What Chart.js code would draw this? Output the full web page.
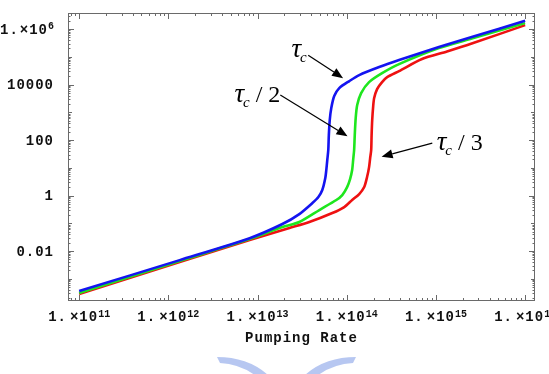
<!DOCTYPE html>
<html><head><meta charset="utf-8">
<script src="https://cdn.jsdelivr.net/npm/chart.js@4.4.0/dist/chart.umd.min.js"></script>
<style>
html,body{margin:0;padding:0;background:#fff;overflow:hidden;width:549px;height:374px}
#wrap{position:relative;width:549px;height:374px;overflow:hidden;background:#fff}
canvas{position:absolute;left:0;top:0}
</style></head>
<body><div id="wrap"><canvas id="c" width="590" height="374" style="width:590px;height:374px"></canvas></div>
<script>
// ---- data ----
const seriesNames = ['τc', 'τc/2', 'τc/3'];

const blueX = [1e11, 1.34e12, 8.15e12, 1.90e13, 2.94e13, 4.12e13, 4.81e13, 5.32e13, 5.75e13, 5.90e13, 6.05e13, 6.21e13, 6.30e13, 6.45e13, 6.71e13, 7.24e13, 8.24e13, 1.07e14, 1.38e14, 2.31e14, 3.86e14, 1.08e15, 2.52e15, 1e16];
const blueY = [3.6e-4, 4.7e-3, 0.029, 0.094, 0.215, 0.537, 0.883, 1.58, 4.28, 8.3, 19.0, 43.7, 151, 526, 1420, 3850, 7480, 13400, 22000, 42800, 76400, 2.24e5, 5.15e5, 2.0e6];

const greenX = [1e11, 1.34e12, 8.15e12, 1.90e13, 2.94e13, 4.93e13, 7.64e13, 8.91e13, 1.01e14, 1.09e14, 1.15e14, 1.18e14, 1.21e14, 1.23e14, 1.26e14, 1.31e14, 1.45e14, 1.78e14, 2.49e14, 3.86e14, 1.08e15, 2.52e15, 1e16];
const greenY = [3.06e-4, 4.37e-3, 0.027, 0.0733, 0.111, 0.300, 0.689, 1.04, 2.02, 3.94, 8.3, 19.0, 43.7, 151, 621, 1820, 4940, 12300, 25900, 54800, 2.07e5, 4.55e5, 1.64e6];

const redX = [1e11, 1.34e12, 8.15e12, 2.28e13, 3.81e13, 6.89e13, 9.38e13, 1.15e14, 1.38e14, 1.57e14, 1.69e14, 1.78e14, 1.83e14, 1.88e14, 1.90e14, 1.93e14, 1.98e14, 2.03e14, 2.19e14, 2.49e14, 2.84e14, 3.86e14, 6.98e14, 1.33e15, 2.52e15, 1e16];
const redY = [2.82e-4, 4.02e-3, 0.0249, 0.0675, 0.111, 0.234, 0.385, 0.689, 1.13, 2.02, 4.65, 10.6, 22.4, 43.7, 151, 526, 1680, 3270, 6890, 12300, 18600, 30600, 83000, 1.55e5, 3.0e5, 1.39e6];

const xTickExps = [11, 12, 13, 14, 15, 16];
const yTickLabels = {'-2': '0.01', '0': '1', '2': '100', '4': '10000', '6': null}; // null = 1.×10^6 form
const xTitle = 'Pumping Rate';

const xRange = [7.5e10, 1.29e16];
const yRange = [1.58e-4, 3.8e6];

// annotations in data coordinates: text anchor, arrow start, arrow end
const annotations = [
  {suffix: '', text: [2.4e13, 1.0e5], from: [3.7e13, 1.15e5], to: [9.1e13, 1.7e4]},
  {suffix: ' / 2', text: [5.5e12, 2340], from: [1.8e13, 4200], to: [1.02e14, 138]},
  {suffix: ' / 3', text: [1.02e15, 44], from: [9.1e14, 78], to: [2.46e14, 25]}
];

const toPts = (xs, ys) => xs.map((x, i) => ({x: x, y: ys[i]}));

function buildLogTicks(scale, lo, hi) {
  const t = [];
  for (let e = lo; e <= hi; e++) {
    for (let m = 1; m <= 9; m++) {
      const v = m * Math.pow(10, e);
      if (v >= scale.min && v <= scale.max) t.push({value: v, major: m === 1, exp: e, m: m});
    }
  }
  scale.ticks = t;
}

const MONO = '"Liberation Mono", "DejaVu Sans Mono", monospace';

// draws "1.×10" with a raised exponent. align: 'center' | 'right'
function drawPow(ctx, x, base, exp, align, gap) {
  ctx.font = 'bold 14px ' + MONO;
  ctx.letterSpacing = '1px';
  const a = '1.', b = '×10';
  const wa = ctx.measureText(a).width, wb = ctx.measureText(b).width;
  ctx.font = 'bold 10px ' + MONO;
  ctx.letterSpacing = '0px';
  const es = String(exp);
  const we = ctx.measureText(es).width;
  const total = wa + gap + wb + we;
  const x0 = align === 'right' ? x - total : x - total / 2;
  ctx.textAlign = 'left';
  ctx.textBaseline = 'alphabetic';
  ctx.font = 'bold 14px ' + MONO;
  ctx.letterSpacing = '1px';
  ctx.fillText(a, x0, base);
  ctx.fillText(b, x0 + wa + gap, base);
  ctx.font = 'bold 10px ' + MONO;
  ctx.letterSpacing = '0px';
  ctx.fillText(es, x0 + wa + gap + wb, base - 4.5);
}

const framePlugin = {
  id: 'frame',
  beforeDatasetsDraw(chart) {
    const {ctx, chartArea: a, scales} = chart;
    ctx.save();
    ctx.strokeStyle = '#6a6a6a';
    ctx.lineWidth = 1;
    ctx.strokeRect(a.left + 0.5, a.top + 0.5, a.right - a.left - 1, a.bottom - a.top - 1);
    ctx.beginPath();
    scales.x.ticks.forEach(t => {
      const p = Math.round(scales.x.getPixelForValue(t.value)) + 0.5;
      const len = t.m === 1 ? 6 : 3;
      ctx.moveTo(p, a.bottom); ctx.lineTo(p, a.bottom - len);
      ctx.moveTo(p, a.top); ctx.lineTo(p, a.top + len);
    });
    scales.y.ticks.forEach(t => {
      const p = Math.round(scales.y.getPixelForValue(t.value)) + 0.5;
      let len = 2.5;
      if (t.m === 1) len = (String(t.exp) in yTickLabels) ? 6 : 4;
      ctx.moveTo(a.left, p); ctx.lineTo(a.left + len, p);
      ctx.moveTo(a.right, p); ctx.lineTo(a.right - len, p);
    });
    ctx.stroke();

    // tick labels and axis title (real text, positioned by the scales)
    ctx.fillStyle = '#111';
    xTickExps.forEach(e => {
      const px = scales.x.getPixelForValue(Math.pow(10, e));
      drawPow(ctx, px, a.bottom + 20, e, 'center', 3);
    });
    Object.keys(yTickLabels).forEach(k => {
      const e = Number(k);
      const py = scales.y.getPixelForValue(Math.pow(10, e));
      const lab = yTickLabels[k];
      if (lab === null) {
        drawPow(ctx, a.left - 14, py + 4.5, e, 'right', 1);
      } else {
        ctx.font = 'bold 14px ' + MONO;
        ctx.letterSpacing = '1px';
        ctx.textAlign = 'right';
        ctx.textBaseline = 'alphabetic';
        ctx.fillText(lab, a.left - 14, py + 4.5);
      }
    });
    ctx.font = 'bold 14px ' + MONO;
    ctx.letterSpacing = '1px';
    ctx.textAlign = 'center';
    ctx.textBaseline = 'alphabetic';
    ctx.fillText(xTitle, (a.left + a.right) / 2, a.bottom + 41);
    ctx.letterSpacing = '0px';
    ctx.restore();
  },
  afterDatasetsDraw(chart) {
    const {ctx, scales} = chart;
    const X = v => scales.x.getPixelForValue(v), Y = v => scales.y.getPixelForValue(v);
    ctx.save();
    ctx.fillStyle = '#000';
    ctx.strokeStyle = '#000';
    ctx.textBaseline = 'alphabetic';
    ctx.textAlign = 'left';
    annotations.forEach(an => {
      const tx = X(an.text[0]), ty = Y(an.text[1]);
      ctx.font = 'italic 27px "Liberation Serif", serif';
      ctx.fillText('τ', tx, ty);
      const w1 = ctx.measureText('τ').width;
      ctx.font = 'italic 15px "Liberation Serif", serif';
      ctx.fillText('c', tx + w1 - 1, ty + 5);
      const w2 = ctx.measureText('c').width;
      if (an.suffix) {
        ctx.font = '24px "Liberation Serif", serif';
        ctx.fillText(an.suffix, tx + w1 + w2 - 1, ty);
      }
      const x1 = X(an.from[0]), y1 = Y(an.from[1]), x2 = X(an.to[0]), y2 = Y(an.to[1]);
      const ang = Math.atan2(y2 - y1, x2 - x1);
      const hl = 11, hw = 4.5;
      const bx = x2 - hl * Math.cos(ang), by = y2 - hl * Math.sin(ang);
      ctx.lineWidth = 1.2;
      ctx.beginPath(); ctx.moveTo(x1, y1); ctx.lineTo(bx, by); ctx.stroke();
      ctx.beginPath();
      ctx.moveTo(x2, y2);
      ctx.lineTo(bx + hw * Math.sin(ang), by - hw * Math.cos(ang));
      ctx.lineTo(bx - hw * Math.sin(ang), by + hw * Math.cos(ang));
      ctx.closePath(); ctx.fill();
    });
    ctx.restore();
  },
  afterDraw(chart) {
    // faint watermark logo under the axis title
    const ctx = chart.ctx;
    ctx.save();
    ctx.fillStyle = 'rgba(165,185,238,0.8)';
    ctx.beginPath();
    ctx.moveTo(217, 357); ctx.quadraticCurveTo(248, 357, 268, 375); ctx.lineTo(256, 376);
    ctx.quadraticCurveTo(240, 364, 220, 363); ctx.closePath(); ctx.fill();
    ctx.beginPath();
    ctx.moveTo(356, 357); ctx.quadraticCurveTo(325, 357, 305, 375); ctx.lineTo(317, 376);
    ctx.quadraticCurveTo(333, 364, 353, 363); ctx.closePath(); ctx.fill();
    ctx.restore();
  }
};

const lineDs = (label, pts, color) => ({
  label: label, data: pts, borderColor: color, backgroundColor: color,
  borderWidth: 2.6, pointRadius: 0, fill: false, tension: 0.25
});

new Chart(document.getElementById('c'), {
  type: 'line',
  data: {
    datasets: [
      lineDs(seriesNames[0], toPts(blueX, blueY), '#1414f0'),
      lineDs(seriesNames[1], toPts(greenX, greenY), '#1ee61e'),
      lineDs(seriesNames[2], toPts(redX, redY), '#ee1111')
    ]
  },
  options: {
    responsive: false,
    animation: false,
    events: [],
    layout: {padding: {left: 0, top: 13, right: 55, bottom: 0}},
    plugins: {legend: {display: false}, tooltip: {enabled: false}},
    scales: {
      x: {
        type: 'logarithmic', position: 'bottom', min: xRange[0], max: xRange[1],
        grid: {display: false, tickLength: 0}, border: {display: false},
        afterBuildTicks: s => buildLogTicks(s, 10, 16),
        afterFit: s => { s.height = 73; s.paddingLeft = 0; s.paddingRight = 0; },
        ticks: {display: false, autoSkip: false}
      },
      y: {
        type: 'logarithmic', position: 'left', min: yRange[0], max: yRange[1],
        grid: {display: false, tickLength: 0}, border: {display: false},
        afterBuildTicks: s => buildLogTicks(s, -4, 6),
        afterFit: s => { s.width = 68; s.paddingTop = 0; s.paddingBottom = 0; },
        ticks: {display: false, autoSkip: false}
      }
    }
  },
  plugins: [framePlugin]
});
</script></body></html>
